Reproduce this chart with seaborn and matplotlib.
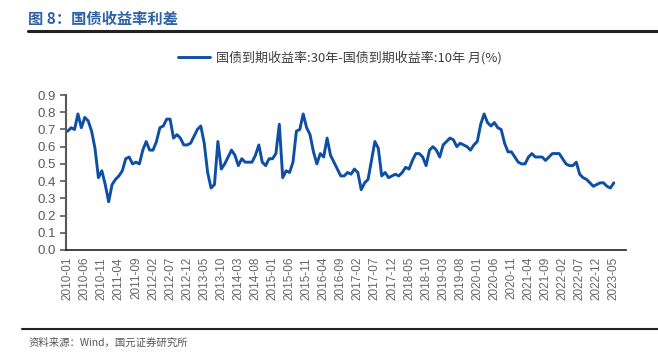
import pandas as pd
import seaborn as sns
import matplotlib.pyplot as plt

# monthly spread, 30y minus 10y treasury yield (%), 2010-01 .. 2023-05
months = pd.period_range("2010-01", "2023-05", freq="M").strftime("%Y-%m").tolist()
spread = [
    0.69, 0.71, 0.70, 0.79, 0.71, 0.77, 0.75, 0.69, 0.59, 0.42,
    0.46, 0.38, 0.28, 0.38, 0.41, 0.43, 0.46, 0.53, 0.54, 0.50,
    0.51, 0.50, 0.58, 0.63, 0.58, 0.58, 0.63, 0.71, 0.72, 0.76,
    0.76, 0.65, 0.67, 0.65, 0.61, 0.61, 0.62, 0.66, 0.70, 0.72,
    0.62, 0.45, 0.36, 0.38, 0.63, 0.47, 0.50, 0.54, 0.58, 0.55,
    0.49, 0.53, 0.51, 0.51, 0.51, 0.55, 0.61, 0.51, 0.49, 0.53,
    0.53, 0.56, 0.73, 0.42, 0.46, 0.45, 0.51, 0.69, 0.70, 0.79,
    0.71, 0.67, 0.57, 0.50, 0.56, 0.54, 0.65, 0.55, 0.51, 0.47,
    0.43, 0.43, 0.45, 0.44, 0.47, 0.45, 0.35, 0.39, 0.41, 0.52,
    0.63, 0.59, 0.43, 0.45, 0.42, 0.43, 0.44, 0.43, 0.45, 0.48,
    0.47, 0.52, 0.56, 0.56, 0.54, 0.49, 0.58, 0.60, 0.58, 0.54,
    0.61, 0.63, 0.65, 0.64, 0.60, 0.62, 0.61, 0.60, 0.58, 0.61,
    0.63, 0.73, 0.79, 0.74, 0.72, 0.74, 0.71, 0.70, 0.62, 0.57,
    0.57, 0.54, 0.51, 0.50, 0.50, 0.54, 0.56, 0.54, 0.54, 0.54,
    0.52, 0.54, 0.56, 0.56, 0.56, 0.53, 0.50, 0.49, 0.49, 0.51,
    0.44, 0.42, 0.41, 0.39, 0.37, 0.38, 0.39, 0.39, 0.37, 0.36,
    0.39,
]
series_name = "国债到期收益率:30年-国债到期收益率:10年 月(%)"
title = "图 8：国债收益率利差"
source = "资料来源：Wind，国元证券研究所"

sns.set_style("white")
plt.rcParams["font.family"] = ["Noto Sans CJK SC", "DejaVu Sans"]

df = pd.DataFrame({"idx": range(len(months)), "month": months, "value": spread})

fig = plt.figure(figsize=(6.58, 3.56), dpi=100)
ax = fig.add_axes([0.1003, 0.2978, 0.8507, 0.4353])

sns.lineplot(data=df, x="idx", y="value", ax=ax, color="#0F4FA3",
             linewidth=2.1, label=series_name)

ax.set_ylim(0, 0.9)
ax.set_xlim(-0.5, len(months) + 2.5)
ax.set_yticks([i / 10 for i in range(10)])
ax.set_yticklabels([f"{i / 10:.1f}" for i in range(10)],
                   family=["Liberation Sans"], fontsize=9.5, color="#595959")

ax.set_xticks(df["idx"][::5])
ax.set_xticklabels(df["month"][::5], rotation=90, family=["Liberation Sans"],
                   fontsize=8.5, color="#666666")
ax.set_xticks(range(len(months) + 3), minor=True)
ax.tick_params(axis="x", which="both", direction="in", length=3, width=0.6,
               color="#222222", pad=5)
ax.tick_params(axis="y", direction="out", length=4, width=1.2, color="#595959", left=True, pad=3)
ax.set_xlabel("")
ax.set_ylabel("")

for side in ["top", "right"]:
    ax.spines[side].set_visible(False)
ax.spines["left"].set_color("#595959")
ax.spines["left"].set_linewidth(1.5)
ax.spines["bottom"].set_color("#222222")
ax.spines["bottom"].set_linewidth(1.2)

leg = ax.legend(loc="lower center", bbox_to_anchor=(0.49, 1.12), frameon=False,
                fontsize=9.4, handlelength=2.4, handletextpad=0.5)
for t in leg.get_texts():
    t.set_color("#404040")

fig.text(0.043, 0.948, title, fontsize=11, fontweight="bold", color="#2F62A8",
         va="center", ha="left")
fig.add_artist(plt.Line2D([0.043, 1.0], [0.913, 0.913], color="#222222", linewidth=2.2))
fig.add_artist(plt.Line2D([0.034, 1.0], [0.076, 0.076], color="#222222", linewidth=1.5))
fig.text(0.043, 0.036, source, fontsize=7.5, color="#555555", va="center", ha="left")

fig.savefig("out.png", dpi=100)
